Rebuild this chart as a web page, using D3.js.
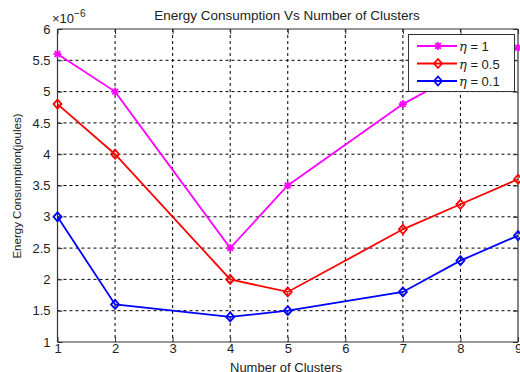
<!DOCTYPE html>
<html>
<head>
<meta charset="utf-8">
<script src="https://cdn.jsdelivr.net/npm/d3@7"></script>
<style>
  html, body { margin: 0; padding: 0; background: #fff; }
  svg { display: block; font-family: Arial, "Liberation Sans", sans-serif; }
</style>
</head>
<body>
<svg id="chart" width="520" height="372"></svg>
<script>
// Cluster counts on the x axis
const clusters = [1, 2, 4, 5, 7, 8, 9];
// Energy consumption (×10^-6 joules) for each eta
const eta1   = [5.6, 5.0, 2.5, 3.5, 4.8, 5.3, 5.7];
const eta05  = [4.8, 4.0, 2.0, 1.8, 2.8, 3.2, 3.6];
const eta01  = [3.0, 1.6, 1.4, 1.5, 1.8, 2.3, 2.7];
const seriesNames = ["1", "0.5", "0.1"];
const seriesColors = ["#ff00ff", "#ff0000", "#0000ff"];
const xTicks = [1, 2, 3, 4, 5, 6, 7, 8, 9];
const yTicks = [1, 1.5, 2, 2.5, 3, 3.5, 4, 4.5, 5, 5.5, 6];

const series = [eta1, eta05, eta01];

const svg = d3.select("#chart");
const m = { left: 57.5, right: 518, top: 29, bottom: 342 };

const x = d3.scaleLinear().domain([1, 9]).range([m.left, m.right]);
const y = d3.scaleLinear().domain([1, 6]).range([m.bottom, m.top]);

// dashed grid
const grid = svg.append("g");
xTicks.slice(1, -1).forEach(t => {
  grid.append("line").attr("x1", x(t)).attr("x2", x(t))
    .attr("y1", m.top).attr("y2", m.bottom)
    .attr("stroke", "#000").attr("stroke-width", 1).attr("stroke-dasharray", "3,3");
});
yTicks.slice(1, -1).forEach(t => {
  grid.append("line").attr("x1", m.left).attr("x2", m.right)
    .attr("y1", y(t)).attr("y2", y(t))
    .attr("stroke", "#000").attr("stroke-width", 1).attr("stroke-dasharray", "3,3");
});

// boxed axes with inward ticks
const xAxis = svg.append("g").attr("transform", `translate(0,${m.bottom})`)
  .call(d3.axisBottom(x).tickValues(xTicks).tickSize(-5).tickPadding(1.5).tickFormat(d3.format("d")));
const xAxisTop = svg.append("g").attr("transform", `translate(0,${m.top})`)
  .call(d3.axisTop(x).tickValues(xTicks).tickSize(-5).tickFormat(""));
const yAxis = svg.append("g").attr("transform", `translate(${m.left},0)`)
  .call(d3.axisLeft(y).tickValues(yTicks).tickSize(-5).tickPadding(7).tickFormat(d => d3.format("")(d)));
const yAxisRight = svg.append("g").attr("transform", `translate(${m.right},0)`)
  .call(d3.axisRight(y).tickValues(yTicks).tickSize(-5).tickFormat(""));

[xAxis, xAxisTop, yAxis, yAxisRight].forEach(a => {
  a.selectAll(".domain").attr("stroke", "#333").attr("stroke-width", 1.2);
  a.selectAll(".tick line").attr("stroke", "#333");
  a.selectAll(".tick text").attr("fill", "#222").style("font-size", "13px")
    .style("font-family", "Arial, 'Liberation Sans', sans-serif");
});
xAxis.select(".domain").attr("d", `M${m.left},0H${m.right}`);
yAxis.select(".domain").attr("d", `M0,${m.bottom}V${m.top}`);
xAxisTop.select(".domain").attr("d", `M${m.left},0H${m.right}`);
yAxisRight.select(".domain").attr("d", `M0,${m.bottom}V${m.top}`);

// exponent label
const expo = svg.append("text").attr("x", 52).attr("y", 23)
  .style("font-size", "13px").attr("fill", "#222");
expo.append("tspan").text("×10");
expo.append("tspan").attr("dy", -6).style("font-size", "10px").text("−6");

// title and axis labels
svg.append("text").attr("x", 287).attr("y", 20).attr("text-anchor", "middle")
  .style("font-size", "13.5px").attr("fill", "#222")
  .text("Energy Consumption Vs Number of Clusters");
svg.append("text").attr("x", 286).attr("y", 372).attr("text-anchor", "middle")
  .style("font-size", "13px").attr("fill", "#222")
  .text("Number of Clusters");
svg.append("text").attr("transform", `translate(21,186) rotate(-90)`)
  .attr("text-anchor", "middle").style("font-size", "11.5px").attr("fill", "#222")
  .text("Energy Consumption(joules)");

// markers
function star(g, cx, cy, color) {
  const r = 4;
  for (let k = 0; k < 4; k++) {
    const a = k * Math.PI / 4;
    g.append("line")
      .attr("x1", cx - r * Math.cos(a)).attr("y1", cy - r * Math.sin(a))
      .attr("x2", cx + r * Math.cos(a)).attr("y2", cy + r * Math.sin(a))
      .attr("stroke", color).attr("stroke-width", 1.8);
  }
}
function diamond(g, cx, cy, color) {
  const r = 4.5, w = 4;
  g.append("path")
    .attr("d", `M${cx},${cy - r}L${cx + w},${cy}L${cx},${cy + r}L${cx - w},${cy}Z`)
    .attr("fill", "none").attr("stroke", color).attr("stroke-width", 1.8);
}

const line = d3.line().x((d, i) => x(clusters[i])).y(d => y(d));

series.forEach((vals, si) => {
  const g = svg.append("g");
  g.append("path").datum(vals).attr("d", line)
    .attr("fill", "none").attr("stroke", seriesColors[si]).attr("stroke-width", 1.8);
  vals.forEach((v, i) => {
    if (si === 0) star(g, x(clusters[i]), y(v), seriesColors[si]);
    else diamond(g, x(clusters[i]), y(v), seriesColors[si]);
  });
});

// legend
const lg = svg.append("g");
lg.append("rect").attr("x", 408.5).attr("y", 34.5).attr("width", 106).attr("height", 57)
  .attr("fill", "#fff").attr("stroke", "#333").attr("stroke-width", 1);
seriesNames.forEach((name, i) => {
  const ly = 46 + i * 17.5;
  lg.append("line").attr("x1", 417).attr("x2", 457).attr("y1", ly).attr("y2", ly)
    .attr("stroke", seriesColors[i]).attr("stroke-width", 1.8);
  if (i === 0) star(lg, 438, ly, seriesColors[i]);
  else diamond(lg, 438, ly, seriesColors[i]);
  const t = lg.append("text").attr("x", 459).attr("y", ly + 5)
    .style("font-size", "13px").attr("fill", "#222");
  t.append("tspan").style("font-family", "'DejaVu Serif', serif").style("font-style", "italic").text("η");
  t.append("tspan").text(" = " + name);
});
</script>
</body>
</html>
